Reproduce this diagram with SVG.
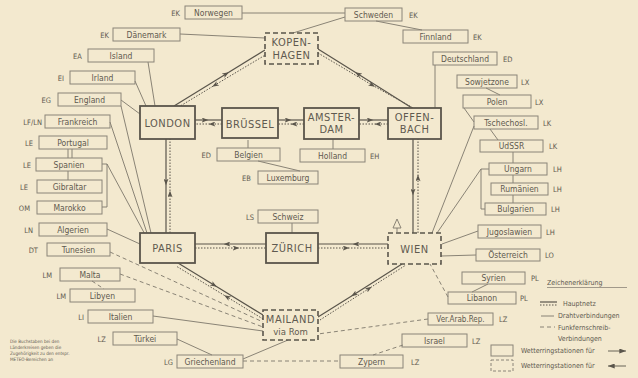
<svg xmlns="http://www.w3.org/2000/svg" width="638" height="378" viewBox="0 0 638 378">
<style>
 .bg{fill:#f3e9cf}
 .cb{fill:none;stroke:#8a8478;stroke-width:1}
 .mn{fill:#f3e9cf;stroke:#5a554b;stroke-width:1.8}
 .md{fill:#f3e9cf;stroke:#5a554b;stroke-width:1.6;stroke-dasharray:5 3}
 text{font-family:"DejaVu Sans Condensed","DejaVu Sans","Liberation Sans",sans-serif;fill:#5f5a50}
 .c{font-size:8.5px;text-anchor:middle}
 .k{font-size:7.5px}
 .ke{font-size:7.5px;text-anchor:end}
 .n{font-size:11px;text-anchor:middle;letter-spacing:0.5px}
 .w{fill:none;stroke:#7d776b;stroke-width:0.9}
 .r{fill:none;stroke:#7d776b;stroke-width:0.9;stroke-dasharray:4 3}
 .hs{fill:none;stroke:#5a554b;stroke-width:1.2;marker-mid:url(#ah)}
 .hd{fill:none;stroke:#5a554b;stroke-width:1;stroke-dasharray:1.5 1.5;marker-mid:url(#ah)}
 .lg{font-size:7px}
 .tiny{font-size:4.6px}
</style>
<defs>
 <marker id="ah" viewBox="0 0 8 6" refX="4" refY="3" markerWidth="7" markerHeight="5" markerUnits="userSpaceOnUse" orient="auto"><path d="M0,0 L8,3 L0,6 L2,3 z" fill="#5a554b"/></marker>
 <marker id="la" viewBox="0 0 8 6" refX="8" refY="3" markerWidth="7" markerHeight="5" markerUnits="userSpaceOnUse" orient="auto"><path d="M0,0 L8,3 L0,6 z" fill="#5a554b"/></marker>
</defs>
<rect class="bg" x="0" y="0" width="638" height="378"/>

<g id="connectors">
 <!-- Hauptnetz -->
 <polyline class="hs" points="195,120 205,120 222,120"/>
 <polyline class="hd" points="222,124 212,124 195,124"/>
 <polyline class="hs" points="278,120 288,120 304,120"/>
 <polyline class="hd" points="304,124 294,124 278,124"/>
 <polyline class="hs" points="359,120 370,120 388,120"/>
 <polyline class="hd" points="388,124 378,124 359,124"/>
 <polyline class="hs" points="174,106 226,74 265,50"/>
 <polyline class="hd" points="267,54 215,85 177,108"/>
 <polyline class="hs" points="412,108 358,74 318,49"/>
 <polyline class="hd" points="318,53 372,85 415,109"/>
 <polyline class="hs" points="413,139 413,192 413,233"/>
 <polyline class="hd" points="418,233 418,178 418,139"/>
 <polyline class="hs" points="388,244 356,244 318,244"/>
 <polyline class="hd" points="318,248 346,248 388,248"/>
 <polyline class="hs" points="266,244 227,244 195,244"/>
 <polyline class="hd" points="195,248 236,248 266,248"/>
 <polyline class="hs" points="166,139 166,182 166,233"/>
 <polyline class="hd" points="170,233 170,194 170,139"/>
 <polyline class="hs" points="178,263 214,285 263,315"/>
 <polyline class="hd" points="263,319 227,297 176,266"/>
 <polyline class="hs" points="402,264 354,294.5 318,317"/>
 <polyline class="hd" points="320,320 369,288.5 406,265"/>
 <!-- Drahtverbindungen -->
 <path class="w" d="M242,13 L345,13"/>
 <path class="w" d="M293,33 L345,17"/>
 <path class="w" d="M376,21 L422,30"/>
 <path class="w" d="M180,34 L265,38"/>
 <path class="w" d="M148,62 L155,106"/>
 <path class="w" d="M135,81 L146,106"/>
 <path class="w" d="M121,100 L140,114"/>
 <path class="w" d="M110,122 L147,233"/>
 <path class="w" d="M121,106 L151,233"/>
 <path class="w" d="M68,149 L68,158 M72,149 L72,158"/>
 <path class="w" d="M68,171 L68,180"/>
 <path class="w" d="M102,164 L107,164 L107,207 L102,207"/>
 <path class="w" d="M107,164 L148,240"/>
 <path class="w" d="M107,229 L140,244"/>
 <path class="w" d="M153,316 L263,331"/>
 <path class="w" d="M177,339 L212,355"/>
 <path class="w" d="M243,359 L288,340"/>
 <path class="w" d="M248,140 L248,148"/>
 <path class="w" d="M258,161 L300,171"/>
 <path class="w" d="M333,139 L333,149"/>
 <path class="w" d="M292,223 L292,233"/>
 <path class="w" d="M435,65 L435,108"/>
 <path class="w" d="M486,88 L500,95"/>
 <path class="w" d="M464,108 L474,122"/>
 <path class="w" d="M474,126 L432,233"/>
 <path class="w" d="M490,129 L498,140"/>
 <path class="w" d="M513,152 L513,163 M513,175 L513,183 M513,195 L513,203"/>
 <path class="w" d="M489,169 L481,169 L481,209 L485,209"/>
 <path class="w" d="M437,233 L481,169"/>
 <path class="w" d="M442,244 L478,231"/>
 <path class="w" d="M441,256 L476,255"/>
 <path class="w" d="M488,284 L472,292"/>
 <!-- Funkfernschreibverbindungen -->
 <path class="r" d="M110,252 L263,322"/>
 <path class="r" d="M120,274 L263,327"/>
 <path class="r" d="M92,281 L104,289"/>
 <path class="r" d="M243,361 L340,361"/>
 <path class="r" d="M403,345 L373,355"/>
 <path class="r" d="M428,319 L318,334"/>
 <path class="r" d="M448,297 L430,264"/>
</g>

<g id="KOPENHAGEN"><rect class="md" x="265" y="33" width="53" height="31"/><text class="n" x="291.5" y="46">KOPEN-</text><text class="n" x="291.5" y="59">HAGEN</text></g>
<g id="LONDON"><rect class="mn" x="140" y="106" width="55" height="33"/><text class="n" x="167.5" y="127">LONDON</text></g>
<g id="BRUESSEL"><rect class="mn" x="222" y="108" width="56" height="30"/><text class="n" x="250" y="127.5">BRÜSSEL</text></g>
<g id="AMSTERDAM"><rect class="mn" x="304" y="108" width="55" height="31"/><text class="n" x="331.5" y="121">AMSTER-</text><text class="n" x="331.5" y="133">DAM</text></g>
<g id="OFFENBACH"><rect class="mn" x="388" y="108" width="53" height="31"/><text class="n" x="414.5" y="121">OFFEN-</text><text class="n" x="414.5" y="133">BACH</text></g>
<g id="PARIS"><rect class="mn" x="140" y="233" width="55" height="30"/><text class="n" x="167.5" y="252">PARIS</text></g>
<g id="ZUERICH"><rect class="mn" x="266" y="233" width="52" height="30"/><text class="n" x="292" y="252">ZÜRICH</text></g>
<g id="WIEN"><rect class="md" x="388" y="233" width="53" height="31"/><text class="n" x="414.5" y="253">WIEN</text>
 <path d="M393,228 L397,219 L401,228 Z M397,228 L397,233" fill="none" stroke="#7d776b" stroke-width="0.9"/></g>
<g id="MAILAND"><rect class="md" x="263" y="310" width="55" height="30"/><text class="n" x="290.5" y="323">MAILAND</text><text class="c" x="290.5" y="335" style="font-size:9.5px">via Rom</text></g>

<g id="Norwegen"><rect class="cb" x="185" y="6" width="57" height="13"/><text class="c" x="213.5" y="15.5">Norwegen</text><text class="ke" x="180" y="15.5">EK</text></g>
<g id="Schweden"><rect class="cb" x="345" y="8" width="57" height="13"/><text class="c" x="373.5" y="17.5">Schweden</text><text class="k" x="409" y="17.5">EK</text></g>
<g id="Finnland"><rect class="cb" x="403" y="30" width="65" height="13"/><text class="c" x="435.5" y="39.5">Finnland</text><text class="k" x="473" y="39.5">EK</text></g>
<g id="Daenemark"><rect class="cb" x="113" y="28" width="67" height="13"/><text class="c" x="146.5" y="37.5">Dänemark</text><text class="ke" x="109" y="37.5">EK</text></g>
<g id="Island"><rect class="cb" x="88" y="49" width="66" height="13"/><text class="c" x="121" y="58.5">Island</text><text class="ke" x="82" y="58.5">EA</text></g>
<g id="Irland"><rect class="cb" x="70" y="71" width="65" height="13"/><text class="c" x="102.5" y="80.5">Irland</text><text class="ke" x="64" y="80.5">EI</text></g>
<g id="England"><rect class="cb" x="58" y="93" width="63" height="13"/><text class="c" x="89.5" y="102.5">England</text><text class="ke" x="51" y="102.5">EG</text></g>
<g id="Frankreich"><rect class="cb" x="45" y="115" width="65" height="13"/><text class="c" x="77.5" y="124.5">Frankreich</text><text class="ke" x="42" y="124.5">LF/LN</text></g>
<g id="Portugal"><rect class="cb" x="39" y="136" width="68" height="13"/><text class="c" x="73" y="145.5">Portugal</text><text class="ke" x="33" y="145.5">LE</text></g>
<g id="Spanien"><rect class="cb" x="36" y="158" width="66" height="13"/><text class="c" x="69" y="167.5">Spanien</text><text class="ke" x="31" y="167.5">LE</text></g>
<g id="Gibraltar"><rect class="cb" x="37" y="180" width="65" height="13"/><text class="c" x="69.5" y="189.5">Gibraltar</text><text class="ke" x="28" y="189.5">LE</text></g>
<g id="Marokko"><rect class="cb" x="37" y="201" width="65" height="13"/><text class="c" x="69.5" y="210.5">Marokko</text><text class="ke" x="30" y="210.5">OM</text></g>
<g id="Algerien"><rect class="cb" x="39" y="223" width="68" height="13"/><text class="c" x="73" y="232.5">Algerien</text><text class="ke" x="33" y="232.5">LN</text></g>
<g id="Tunesien"><rect class="cb" x="47" y="243" width="63" height="13"/><text class="c" x="78.5" y="252.5">Tunesien</text><text class="ke" x="38" y="252.5">DT</text></g>
<g id="Malta"><rect class="cb" x="60" y="268" width="60" height="13"/><text class="c" x="90" y="277.5">Malta</text><text class="ke" x="52" y="277.5">LM</text></g>
<g id="Libyen"><rect class="cb" x="70" y="289" width="65" height="13"/><text class="c" x="102.5" y="298.5">Libyen</text><text class="ke" x="66" y="298.5">LM</text></g>
<g id="Italien"><rect class="cb" x="88" y="310" width="65" height="13"/><text class="c" x="120.5" y="319.5">Italien</text><text class="ke" x="84" y="319.5">LI</text></g>
<g id="Tuerkei"><rect class="cb" x="113" y="332" width="64" height="13"/><text class="c" x="145" y="341.5">Türkei</text><text class="ke" x="106" y="341.5">LZ</text></g>
<g id="Griechenland"><rect class="cb" x="177" y="355" width="66" height="13"/><text class="c" x="210" y="364.5">Griechenland</text><text class="ke" x="173" y="364.5">LG</text></g>
<g id="Belgien"><rect class="cb" x="217" y="148" width="63" height="13"/><text class="c" x="248.5" y="157.5">Belgien</text><text class="ke" x="211" y="157.5">ED</text></g>
<g id="Luxemburg"><rect class="cb" x="258" y="171" width="60" height="13"/><text class="c" x="288" y="180.5">Luxemburg</text><text class="ke" x="251" y="180.5">EB</text></g>
<g id="Holland"><rect class="cb" x="300" y="149" width="65" height="13"/><text class="c" x="332.5" y="158.5">Holland</text><text class="k" x="370" y="158.5">EH</text></g>
<g id="Schweiz"><rect class="cb" x="258" y="210" width="60" height="13"/><text class="c" x="288" y="219.5">Schweiz</text><text class="ke" x="254" y="219.5">LS</text></g>
<g id="Deutschland"><rect class="cb" x="433" y="52" width="64" height="13"/><text class="c" x="465" y="61.5">Deutschland</text><text class="k" x="503" y="61.5">ED</text></g>
<g id="Sowjetzone"><rect class="cb" x="457" y="75" width="60" height="13"/><text class="c" x="487" y="84.5">Sowjetzone</text><text class="k" x="521" y="84.5">LX</text></g>
<g id="Polen"><rect class="cb" x="463" y="95" width="68" height="13"/><text class="c" x="497" y="104.5">Polen</text><text class="k" x="535" y="104.5">LX</text></g>
<g id="Tschechosl"><rect class="cb" x="474" y="116" width="64" height="13"/><text class="c" x="506" y="125.5">Tschechosl.</text><text class="k" x="543" y="125.5">LK</text></g>
<g id="UdSSR"><rect class="cb" x="480" y="140" width="63" height="12"/><text class="c" x="511.5" y="149">UdSSR</text><text class="k" x="549" y="149">LK</text></g>
<g id="Ungarn"><rect class="cb" x="489" y="163" width="58" height="12"/><text class="c" x="518" y="172">Ungarn</text><text class="k" x="553" y="172">LH</text></g>
<g id="Rumaenien"><rect class="cb" x="491" y="183" width="57" height="12"/><text class="c" x="519.5" y="192">Rumänien</text><text class="k" x="553" y="192">LH</text></g>
<g id="Bulgarien"><rect class="cb" x="485" y="203" width="61" height="12"/><text class="c" x="515.5" y="212">Bulgarien</text><text class="k" x="551" y="212">LH</text></g>
<g id="Jugoslawien"><rect class="cb" x="478" y="225" width="63" height="13"/><text class="c" x="509.5" y="234.5">Jugoslawien</text><text class="k" x="546" y="234.5">LH</text></g>
<g id="Oesterreich"><rect class="cb" x="476" y="249" width="64" height="12"/><text class="c" x="508" y="258">Österreich</text><text class="k" x="545" y="258">LO</text></g>
<g id="Syrien"><rect class="cb" x="462" y="272" width="63" height="12"/><text class="c" x="493.5" y="281">Syrien</text><text class="k" x="531" y="281">PL</text></g>
<g id="Libanon"><rect class="cb" x="448" y="292" width="68" height="12"/><text class="c" x="482" y="301">Libanon</text><text class="k" x="520" y="301">PL</text></g>
<g id="VerArabRep"><rect class="cb" x="428" y="313" width="65" height="12"/><text class="c" x="460.5" y="322" style="font-size:8px">Ver.Arab.Rep.</text><text class="k" x="499" y="322">LZ</text></g>
<g id="Israel"><rect class="cb" x="402" y="334" width="65" height="13"/><text class="c" x="434.5" y="343.5">Israel</text><text class="k" x="472" y="343.5">LZ</text></g>
<g id="Zypern"><rect class="cb" x="340" y="355" width="63" height="13"/><text class="c" x="371.5" y="364.5">Zypern</text><text class="k" x="411" y="364.5">LZ</text></g>

<g id="legend">
 <text class="lg" x="547" y="285">Zeichenerklärung</text>
 <path d="M547,287.5 L627,287.5" stroke="#7d776b" stroke-width="0.7"/>
 <path d="M540,302 L557,302" stroke="#5a554b" stroke-width="1.2"/>
 <path d="M540,305 L557,305" stroke="#5a554b" stroke-width="1" stroke-dasharray="1.5 1.5"/>
 <text class="lg" x="563" y="306">Hauptnetz</text>
 <path d="M541,316 L554,316" stroke="#7d776b" stroke-width="0.9"/>
 <text class="lg" x="558" y="318">Drahtverbindungen</text>
 <path d="M540,327 L555,327" stroke="#7d776b" stroke-width="0.9" stroke-dasharray="4 3"/>
 <text class="lg" x="558" y="330">Funkfernschreib-</text>
 <text class="lg" x="558" y="341">Verbindungen</text>
 <rect class="cb" x="491" y="345" width="22" height="11"/>
 <text class="lg" x="521" y="353">Wetterringstationen für</text>
 <path d="M608,351 L626,351" stroke="#5a554b" stroke-width="0.9" marker-end="url(#la)"/>
 <rect x="491" y="360" width="22" height="11" fill="none" stroke="#8a8478" stroke-dasharray="3 2"/>
 <text class="lg" x="521" y="368">Wetterringstationen für</text>
 <path d="M626,366 L608,366" stroke="#5a554b" stroke-width="0.9" marker-end="url(#la)"/>
</g>

<g id="note">
 <text class="tiny" x="10" y="343">Die Buchstaben bei den</text>
 <text class="tiny" x="10" y="349">Länderkreisen geben die</text>
 <text class="tiny" x="10" y="355">Zugehörigkeit zu den entspr.</text>
 <text class="tiny" x="10" y="361">METEO-Bereichen an</text>
</g>
</svg>
